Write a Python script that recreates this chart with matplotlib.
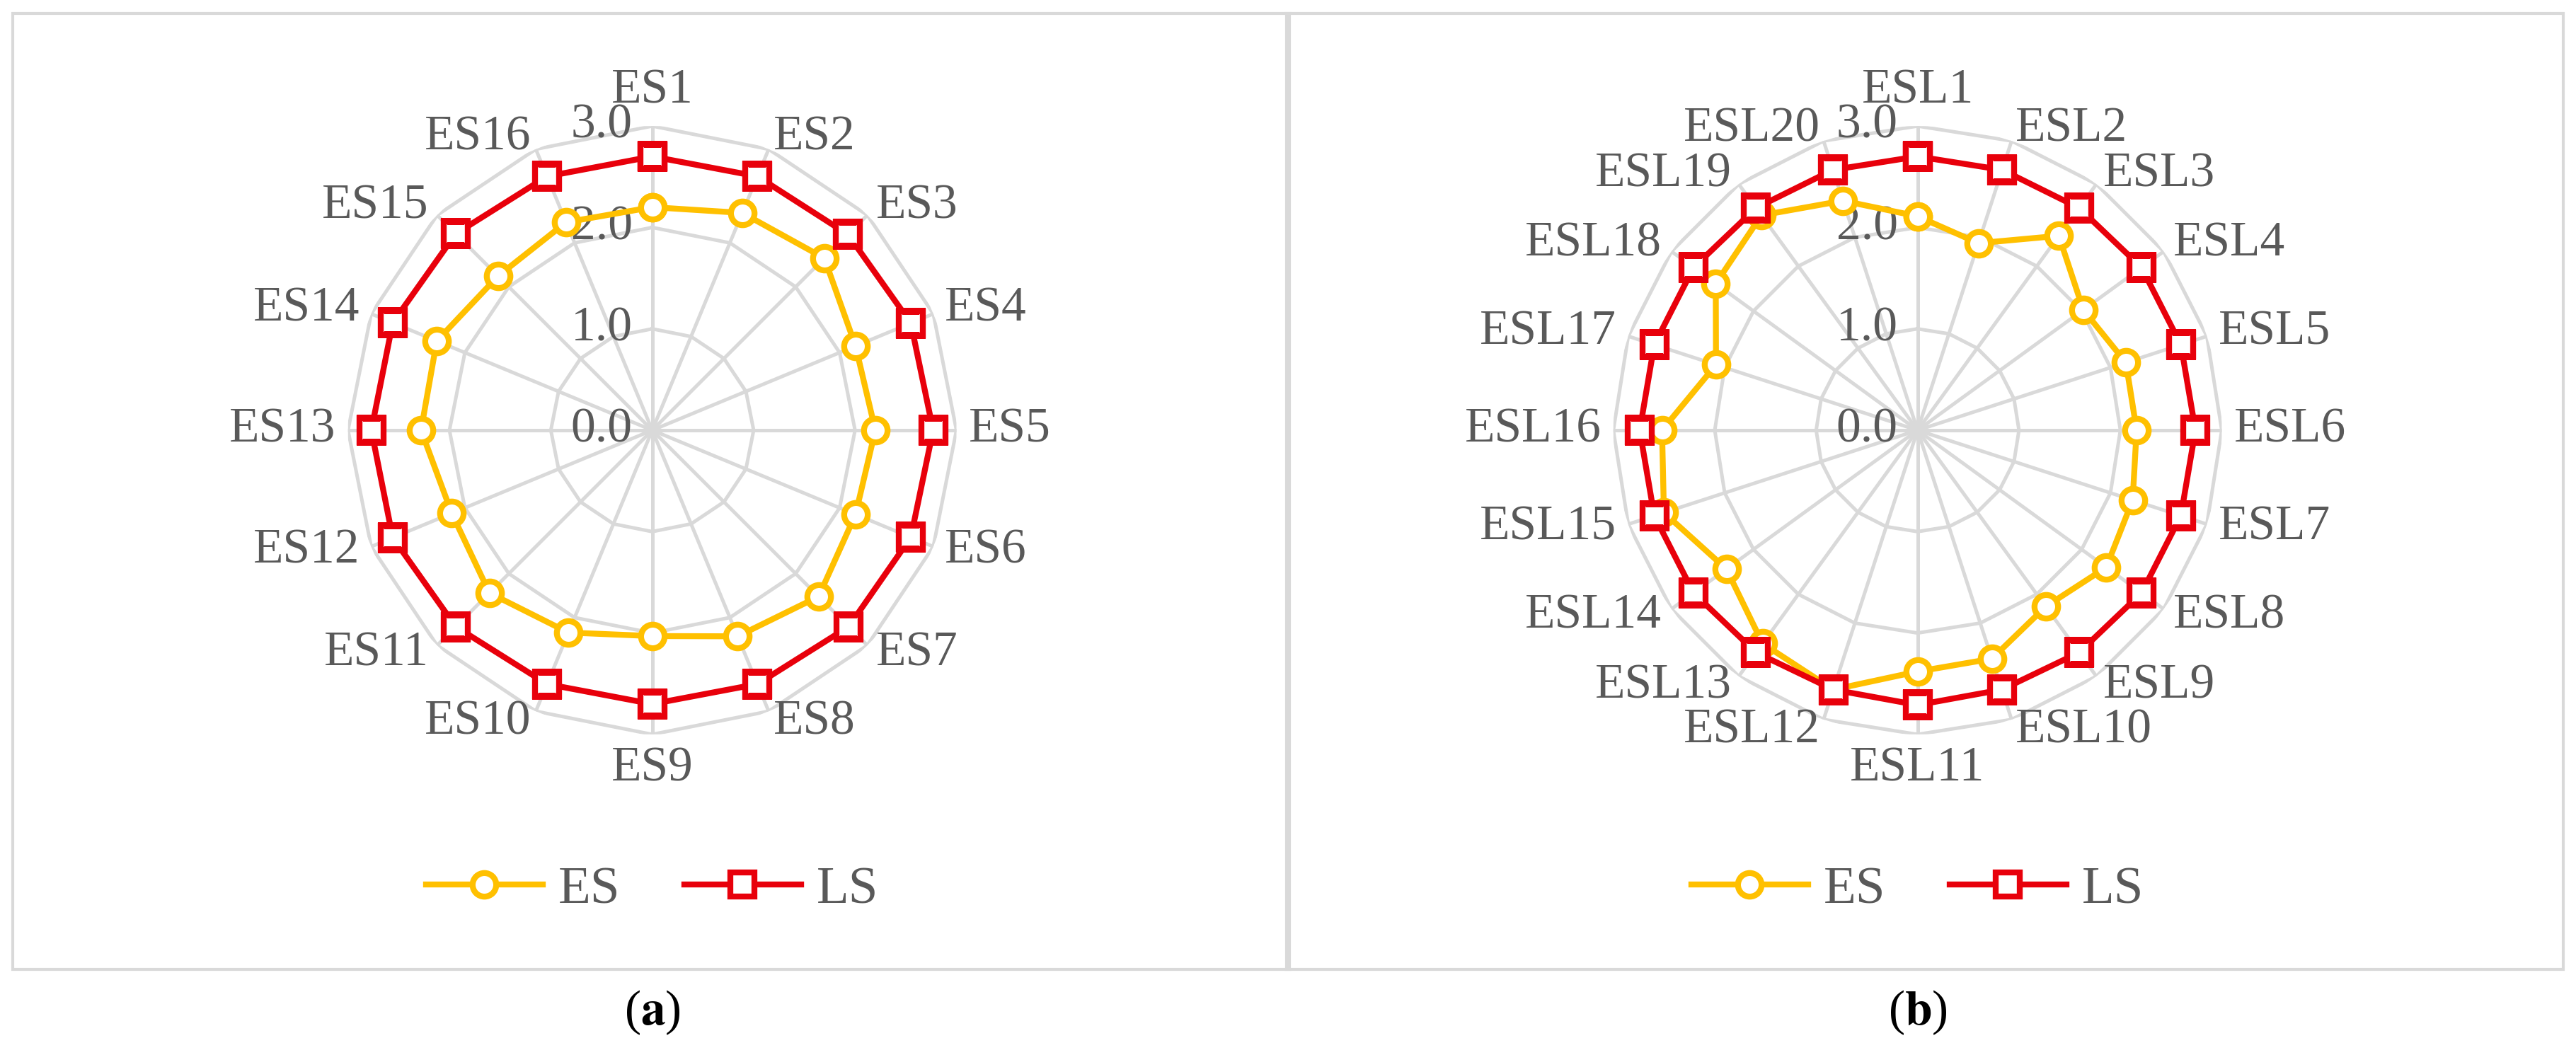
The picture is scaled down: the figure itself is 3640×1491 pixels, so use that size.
import numpy as np
import matplotlib
matplotlib.use("Agg")
import matplotlib.pyplot as plt
from matplotlib.patches import Rectangle
from matplotlib.lines import Line2D

plt.rcParams["font.family"] = ["Liberation Serif", "DejaVu Serif"]
plt.rcParams["mathtext.fontset"] = "stix"

# ── data ──────────────────────────────────────────────────────────────────────
labels_a = [f"ES{i}" for i in range(1, 17)]
es_a = [2.20, 2.32, 2.40, 2.17, 2.20, 2.17, 2.32, 2.20,
        2.03, 2.16, 2.27, 2.14, 2.28, 2.30, 2.15, 2.22]
ls_a = [2.70, 2.71, 2.73, 2.76, 2.77, 2.76, 2.74, 2.71,
        2.70, 2.71, 2.74, 2.77, 2.77, 2.77, 2.74, 2.71]

labels_b = [f"ESL{i}" for i in range(1, 21)]
es_b = [2.11, 1.94, 2.37, 2.02, 2.16, 2.16, 2.23, 2.30, 2.15, 2.37,
        2.38, 2.69, 2.60, 2.33, 2.63, 2.52, 2.09, 2.46, 2.62, 2.38]
ls_b = [2.70, 2.70, 2.71, 2.73, 2.73, 2.74, 2.73, 2.73, 2.71, 2.69,
        2.71, 2.69, 2.71, 2.73, 2.73, 2.74, 2.73, 2.73, 2.71, 2.70]

ticks = [0.0, 1.0, 2.0, 3.0]

ES_COL = "#FFC000"
LS_COL = "#E8000B"
GRID = "#D9D9D9"
TXT = "#595959"
FS = 25
LW = 3.0

fig = plt.figure(figsize=(18.2, 7.455), dpi=200)

# panel frames
for x0 in (0.005, 0.4995):
    fig.add_artist(Rectangle((x0, 0.081), 0.4955, 0.9065, transform=fig.transFigure,
                             fill=False, edgecolor=GRID, lw=1.5))


def radar(rect, labels, es, ls, cap):
    ax = fig.add_axes(rect, projection="polar")
    n = len(labels)
    th = np.linspace(0, 2 * np.pi, n, endpoint=False)
    ax.set_theta_zero_location("N")
    ax.set_theta_direction(-1)
    ax.set_ylim(0, 3.0)
    ax.grid(False)
    ax.spines["polar"].set_visible(False)
    ax.set_xticks([])
    ax.set_yticks([])
    ax.patch.set_alpha(0)
    thc = np.append(th, th[0])
    for r in ticks[1:]:
        ax.plot(thc, [r] * (n + 1), color=GRID, lw=1.8, zorder=1)
    for t in th:
        ax.plot([t, t], [0, 3.0], color=GRID, lw=1.8, zorder=1)
    for r in ticks:
        ax.annotate(f"{r:.1f}", (0, r), xytext=(-10, 0), textcoords="offset points",
                    ha="right", va="center", fontsize=FS, color=TXT, zorder=2)
    ax.plot(thc, list(es) + [es[0]], color=ES_COL, lw=LW, marker="o", ms=12,
            mfc="white", mec=ES_COL, mew=LW, zorder=3)
    ax.plot(thc, list(ls) + [ls[0]], color=LS_COL, lw=LW, marker="s", ms=12,
            mfc="white", mec=LS_COL, mew=LW, zorder=4)
    for t, lab in zip(th, labels):
        s = np.sin(t)
        c = np.cos(t)
        ha = "center" if abs(s) < 0.15 else ("left" if s > 0 else "right")
        va = "center"
        if abs(s) < 0.15:
            va = "bottom" if c > 0 else "top"
        ax.text(t, 3.12, lab, ha=ha, va=va, fontsize=FS, color=TXT)
    cx = rect[0] + rect[2] / 2
    handles = [Line2D([], [], color=ES_COL, lw=LW, marker="o", ms=12, mfc="white", mew=LW),
               Line2D([], [], color=LS_COL, lw=LW, marker="s", ms=12, mfc="white", mew=LW)]
    fig.legend(handles, ["ES", "LS"], loc="center", bbox_to_anchor=(cx, 0.156),
               ncol=2, frameon=False, fontsize=FS + 2, labelcolor=TXT,
               handlelength=2.2, columnspacing=1.2, handletextpad=0.3)
    fig.text(cx, 0.04, cap, ha="center", va="center", fontsize=FS, color="black")


radar([0.1351, 0.3038, 0.2362, 0.5768], labels_a, es_a, ls_a, r"($\mathbf{a}$)")
radar([0.6263, 0.3038, 0.2362, 0.5768], labels_b, es_b, ls_b, r"($\mathbf{b}$)")

fig.savefig("out.png", dpi=200, facecolor="white")
